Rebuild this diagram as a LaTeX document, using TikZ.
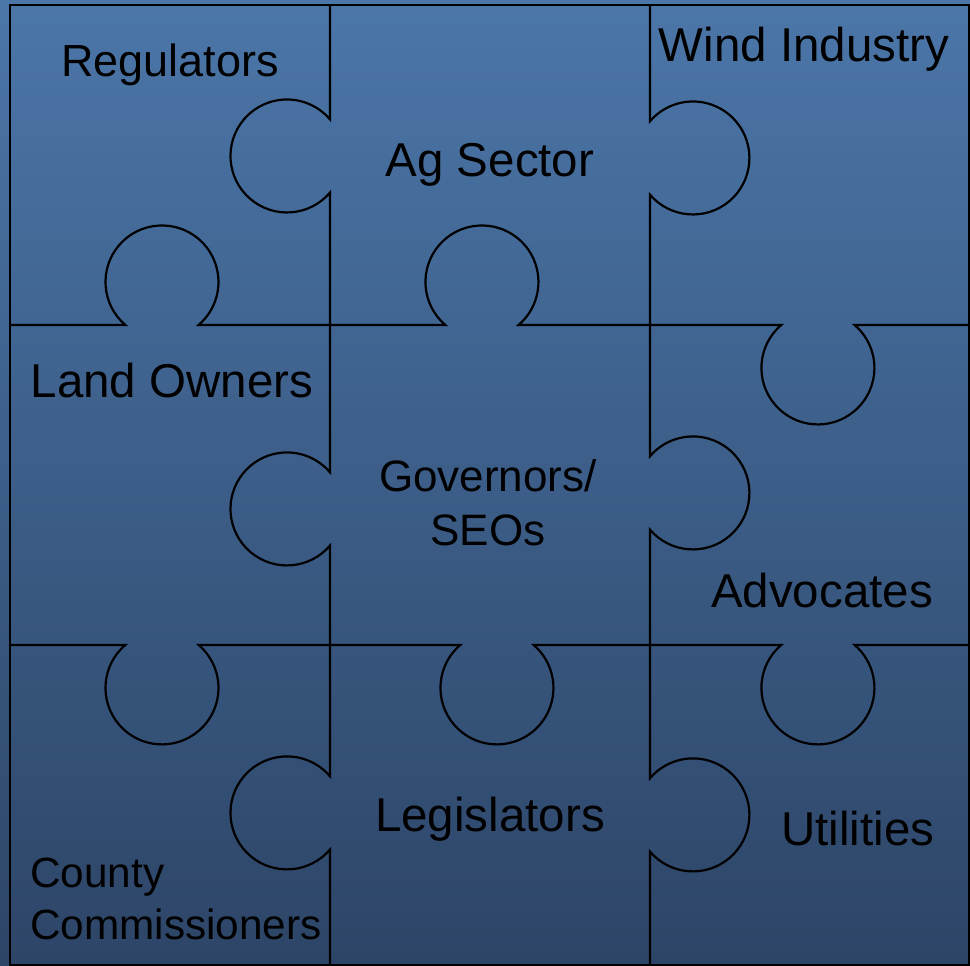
\documentclass[tikz,border=0pt]{standalone}
\usepackage{fontspec}
\setmainfont{Liberation Sans}
\usepackage{tikz}

\definecolor{boardtop}{RGB}{75,118,168}
\definecolor{boardbot}{RGB}{45,69,103}

% knob radius and how far its centre sits off the seam
\def\kr{56.5}
\def\kd{43}
\pgfmathsetmacro\kh{sqrt(\kr*\kr-\kd*\kd)}
\pgfmathsetmacro\ka{asin(\kd/\kr)}

% seam along y=#1 from x=#2 to x=#3, knob at x=#4, #5=1 up / -1 down
\newcommand\hseam[5]{%
  \draw[seam] (#2,#1) -- ({#4-\kh},#1)
    arc[start angle={180+(#5)*\ka}, delta angle={(#5)*(-180-2*\ka)}, radius=\kr]
    -- (#3,#1);}
% seam along x=#1 from y=#2 to y=#3, knob at y=#4, #5=1 right / -1 left
\newcommand\vseam[5]{%
  \draw[seam] (#1,#2) -- (#1,{#4-\kh})
    arc[start angle={90+(#5)*(180-\ka)}, delta angle={(#5)*(180+2*\ka)}, radius=\kr]
    -- (#1,#3);}

\begin{document}
\begin{tikzpicture}[x=1pt,y=1pt]
\tikzset{seam/.style={line width=2.2pt},
  piece/.style={font=\fontsize{47.5}{53}\selectfont, inner sep=0pt, anchor=base}}
\shade[top color=boardtop, bottom color=boardbot] (0,0) rectangle (970,966);
\draw[seam] (10,1) rectangle (969,961);

\vseam{330}{641}{961}{810}{-1}
\vseam{330}{321}{641}{457}{-1}
\vseam{330}{1}{321}{153}{-1}
\vseam{650}{641}{961}{808}{1}
\vseam{650}{321}{641}{473}{1}
\vseam{650}{1}{321}{151}{1}
\hseam{641}{10}{330}{162}{1}
\hseam{641}{330}{650}{482}{1}
\hseam{641}{650}{969}{818}{-1}
\hseam{321}{10}{330}{162}{-1}
\hseam{321}{330}{650}{497}{-1}
\hseam{321}{650}{969}{818}{-1}

\node[piece, font=\fontsize{45}{53}\selectfont] (regulators) at (170,889) {Regulators};
\node[piece] (ag) at (490,789) {Ag Sector};
\node[piece] (wind) at (804,904) {Wind Industry};
\node[piece] (land) at (172,568) {Land Owners};
\node[piece, font=\fontsize{44}{54}\selectfont, align=center] (governors) at (488,420) {Governors/\\SEOs};
\node[piece] (advocates) at (822,358) {Advocates};
\node[piece, font=\fontsize{42.3}{52}\selectfont, anchor=base west, align=left] (county) at (30,26) {County\\Commissioners};
\node[piece] (legislators) at (490,134) {Legislators};
\node[piece] (utilities) at (858,120) {Utilities};
\end{tikzpicture}
\end{document}
